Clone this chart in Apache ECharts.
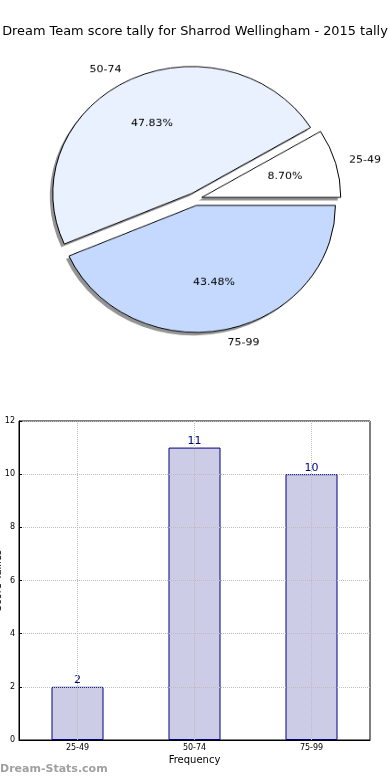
<!DOCTYPE html>
<html>
<head>
<meta charset="utf-8">
<script src="https://cdn.jsdelivr.net/npm/echarts@6/dist/echarts.min.js"></script>
<style>
html,body{margin:0;padding:0;background:#fff}
#wrap{position:relative;width:390px;height:780px;overflow:hidden}
#c{position:absolute;left:0;top:0;width:390px;height:780px}
#p{position:absolute;left:0;top:0;width:390px;height:440px;transform:scaleY(0.9134);transform-origin:0 0}
</style>
</head>
<body>
<div id="wrap"><div id="c"></div><div id="p"></div></div>
<script>
var titleText = 'Dream Team score tally for Sharrod Wellingham - 2015 tally';
var categories = ['25-49', '50-74', '75-99'];
var counts = [2, 11, 10];
var sliceColors = ['#ffffff', '#eaf1fe', '#c5d9fe'];
var yTicksMax = 12;
var yTickStep = 2;
var xAxisName = 'Frequency';
var yAxisName = 'Score Tallies';
var watermark = 'Dream-Stats.com';

var FONT = 'DejaVu Sans';
var R = 139;
var CX = 195, CY = 218;
var total = counts.reduce(function (a, b) { return a + b; }, 0);

function mk(colorFn, extra) {
  return categories.map(function (c, i) {
    return { name: c, value: counts[i], selected: true, itemStyle: colorFn(i) };
  });
}

var main = echarts.init(document.getElementById('c'), null, { renderer: 'canvas' });
main.setOption({
  animation: false,
  backgroundColor: '#fff',
  title: { text: titleText, left: 'center', top: 20,
    textStyle: { fontFamily: FONT, fontSize: 12.9, fontWeight: 'normal', color: '#000' } },
  graphic: [{ type: 'text', left: 0, top: 764, silent: true,
    style: { text: watermark, fill: '#a0a0a0', font: 'bold 11px ' + FONT } }],
  grid: { left: 19, right: 20, top: 421, bottom: 40, show: true, borderColor: '#000', borderWidth: 1,
    containLabel: false, outerBoundsMode: 'none' },
  xAxis: {
    type: 'category', data: categories, z: 5,
    name: xAxisName, nameLocation: 'middle', nameGap: 15, nameMoveOverlap: false,
    nameTextStyle: { fontFamily: FONT, fontSize: 10, color: '#000' },
    axisLine: { lineStyle: { color: '#000' } },
    axisTick: { show: false },
    axisLabel: { fontFamily: FONT, fontSize: 8, color: '#000', margin: 4 },
    splitLine: { show: false }
  },
  yAxis: {
    type: 'value', min: 0, max: yTicksMax, interval: yTickStep, z: 5,
    name: yAxisName, nameLocation: 'middle', nameGap: 16, nameRotate: 90, nameMoveOverlap: false,
    nameTextStyle: { fontFamily: FONT, fontSize: 10, color: '#000' },
    axisLine: { show: true, lineStyle: { color: '#000' } },
    axisTick: { show: true, inside: true, length: 3, lineStyle: { color: '#000' } },
    axisLabel: { fontFamily: FONT, fontSize: 8, color: '#000', margin: 4 },
    splitLine: { show: true, lineStyle: { color: '#bdbdbd', type: 'dotted', width: 1 } }
  },
  series: [
    {
      type: 'bar', data: counts, barWidth: 52, silent: true, z: 2,
      itemStyle: { color: '#cccce6', borderColor: '#000080', borderWidth: 1 },
      label: { show: true, position: 'top', distance: 1, fontFamily: FONT, fontSize: 11, color: '#000080' },
      markLine: {
        silent: true, symbol: 'none', z: 6,
        label: { show: false },
        lineStyle: { color: '#bdbdbd', type: 'dotted', width: 1 },
        data: categories.map(function (c) { return { xAxis: c }; })
      }
    }
  ]
});

var pie = echarts.init(document.getElementById('p'), null, { renderer: 'canvas' });
var common = { type: 'pie', startAngle: 0, clockwise: false, selectedMode: 'multiple',
  selectedOffset: 7, avoidLabelOverlap: false, silent: true, emphasis: { disabled: true } };
pie.setOption({
  animation: false,
  backgroundColor: 'transparent',
  series: [
    Object.assign({}, common, {
      center: [CX - 3, CY + 3.3], radius: [0, R], z: 1,
      data: mk(function () { return { color: 'rgba(0,0,0,0.42)', borderWidth: 0 }; }),
      label: { show: false }, labelLine: { show: false }
    }),
    Object.assign({}, common, {
      center: [CX, CY], radius: [0, R], z: 2,
      data: mk(function (i) { return { color: sliceColors[i], borderColor: '#000', borderWidth: 1 }; }),
      label: { show: true, position: 'outside', fontFamily: FONT, fontSize: 11, color: '#000',
        distanceToLabelLine: 0, formatter: '{b}' },
      labelLine: { show: false, length: 14, length2: 0 }
    }),
    Object.assign({}, common, {
      center: [CX, CY], radius: [0, R * 1.2], z: 3,
      data: mk(function () { return { color: 'rgba(0,0,0,0)', borderWidth: 0 }; }),
      label: { show: true, position: 'inside', fontFamily: FONT, fontSize: 11, color: '#000',
        formatter: function (p) { return (p.value / total * 100).toFixed(2) + '%'; } },
      labelLine: { show: false }
    })
  ]
});
</script>
</body>
</html>
